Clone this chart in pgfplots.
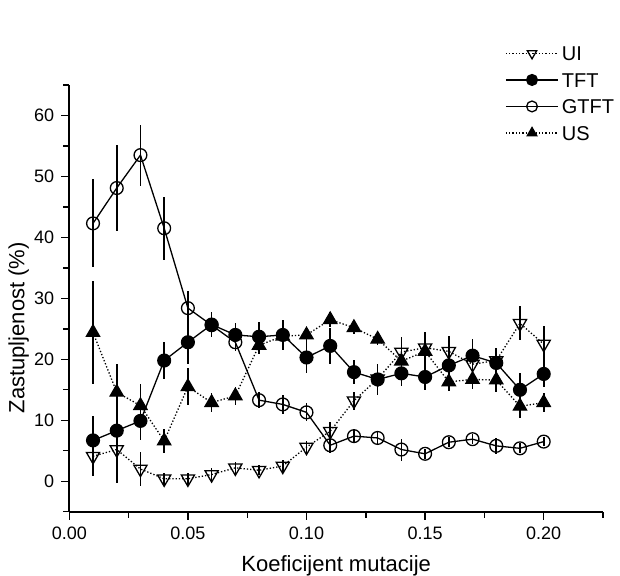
\documentclass[border=0pt]{standalone}
\usepackage{fontspec}
\setmainfont{Liberation Sans}
\usepackage{pgfplots}
\pgfplotsset{compat=1.18}

\pgfplotstableread{
x     y     e
0.01  4.1   3.3
0.02  5.2   5.5
0.03  2.0   2.8
0.04  0.4   1.0
0.05  0.4   1.0
0.06  1.1   1.0
0.07  2.2   1.0
0.08  1.8   0.8
0.09  2.5   1.0
0.10  5.6   1.0
0.11  8.2   1.5
0.12  13.2  1.5
0.13  16.8  1.5
0.14  21.2  2.5
0.15  21.9  2.5
0.16  21.3  2.5
0.17  19.2  2.5
0.18  19.8  2.0
0.19  25.9  2.8
0.20  22.5  3.0
}\ui
\pgfplotstableread{
x     y     e
0.01  6.7   4.0
0.02  8.3   5.5
0.03  9.9   3.2
0.04  19.8  3.0
0.05  22.8  3.5
0.06  25.7  2.0
0.07  24.0  2.0
0.08  23.7  2.5
0.09  24.0  2.5
0.10  20.3  2.5
0.11  22.2  3.0
0.12  17.9  2.0
0.13  16.7  2.5
0.14  17.7  2.0
0.15  17.1  2.2
0.16  19.0  2.5
0.17  20.6  2.8
0.18  19.4  2.5
0.19  15.0  2.8
0.20  17.6  2.2
}\tft
\pgfplotstableread{
x     y     e
0.01  42.3  7.2
0.02  48.1  7.0
0.03  53.5  5.0
0.04  41.5  5.2
0.05  28.4  2.8
0.06  25.6  2.0
0.07  22.8  1.5
0.08  13.3  1.3
0.09  12.6  1.5
0.10  11.3  1.5
0.11  5.9   1.2
0.12  7.4   1.2
0.13  7.1   1.2
0.14  5.2   1.8
0.15  4.5   0.8
0.16  6.4   0.8
0.17  6.9   0.8
0.18  5.8   1.3
0.19  5.4   0.8
0.20  6.5   0.8
}\gtft
\pgfplotstableread{
x     y     e
0.01  24.4  8.5
0.02  14.6  4.6
0.03  12.4  3.5
0.04  6.6   2.0
0.05  15.5  3.0
0.06  12.9  1.5
0.07  14.0  1.5
0.08  22.3  1.5
0.09  23.8  1.5
0.10  24.0  1.2
0.11  26.5  1.2
0.12  25.2  1.0
0.13  23.3  1.0
0.14  19.7  2.0
0.15  21.3  2.0
0.16  16.3  1.5
0.17  16.7  1.5
0.18  16.6  2.0
0.19  12.3  2.0
0.20  12.9  1.5
}\us

\begin{document}
\begin{tikzpicture}
\useasboundingbox (-34.65pt,-31.65pt) rectangle (275.35pt,255.85pt);
\begin{axis}[
  at={(0,0)}, anchor=south west,
  scale only axis,
  width=266.85pt, height=213.35pt,
  xmin=0, xmax=0.225,
  ymin=-5, ymax=65,
  axis lines*=left,
  axis line style={-, line width=0.8pt},
  tick align=outside,
  major tick length=4pt, minor tick length=3pt,
  tick style={black, line width=0.7pt},
  xtick={0,0.05,0.10,0.15,0.20},
  minor xtick={0.025,0.075,0.125,0.175,0.225},
  ytick={0,10,20,30,40,50,60},
  minor ytick={-5,5,15,25,35,45,55,65},
  xticklabel style={/pgf/number format/.cd, fixed, fixed zerofill, precision=2},
  /pgf/number format/assume math mode=true,
  tick label style={font=\fontsize{9}{10}\selectfont},
  xlabel={Koeficijent mutacije},
  ylabel={Zastupljenost (\%)},
  label style={font=\fontsize{11}{13}\selectfont},
  xlabel style={at={(axis description cs:0.5,-0.1405)}, anchor=base},
  ylabel style={at={(axis description cs:-0.0844,0.431)}, anchor=base},
  legend style={at={(0.816,1.0925)}, anchor=north west, draw=none, fill=none,
    inner sep=0pt, font=\fontsize{10}{12}\selectfont, row sep=5.75pt,
    nodes={inner ysep=0pt, inner xsep=1.5pt, text height=7.5pt, text depth=0pt}},
  legend cell align=left,
  legend image code/.code={\draw[mark repeat=2, mark phase=2, #1, mark size=2.7pt]
    plot coordinates {(0cm,0cm) (0.46cm,0cm) (0.92cm,0cm)};},
  every axis plot/.append style={black, line width=0.65pt},
  error bars/y dir=both, error bars/y explicit,
  error bars/error mark=none,
  error bars/error bar style={solid, line width=0.8pt},
]
\addplot[densely dotted, mark=triangle, mark size=3.8pt,
  mark options={solid, fill=white, rotate=180}]
  table[x=x, y=y, y error=e] {\ui};
\addlegendentry{UI}
\addplot[solid, mark=*, mark size=3.2pt, mark options={fill=black}]
  table[x=x, y=y, y error=e] {\tft};
\addlegendentry{TFT}
\addplot[solid, mark=o, mark size=3.2pt, mark options={fill=white}]
  table[x=x, y=y, y error=e] {\gtft};
\addlegendentry{GTFT}
\addplot[densely dotted, mark=triangle*, mark size=3.8pt,
  mark options={solid, fill=black}]
  table[x=x, y=y, y error=e] {\us};
\addlegendentry{US}
\end{axis}
\end{tikzpicture}
\end{document}
